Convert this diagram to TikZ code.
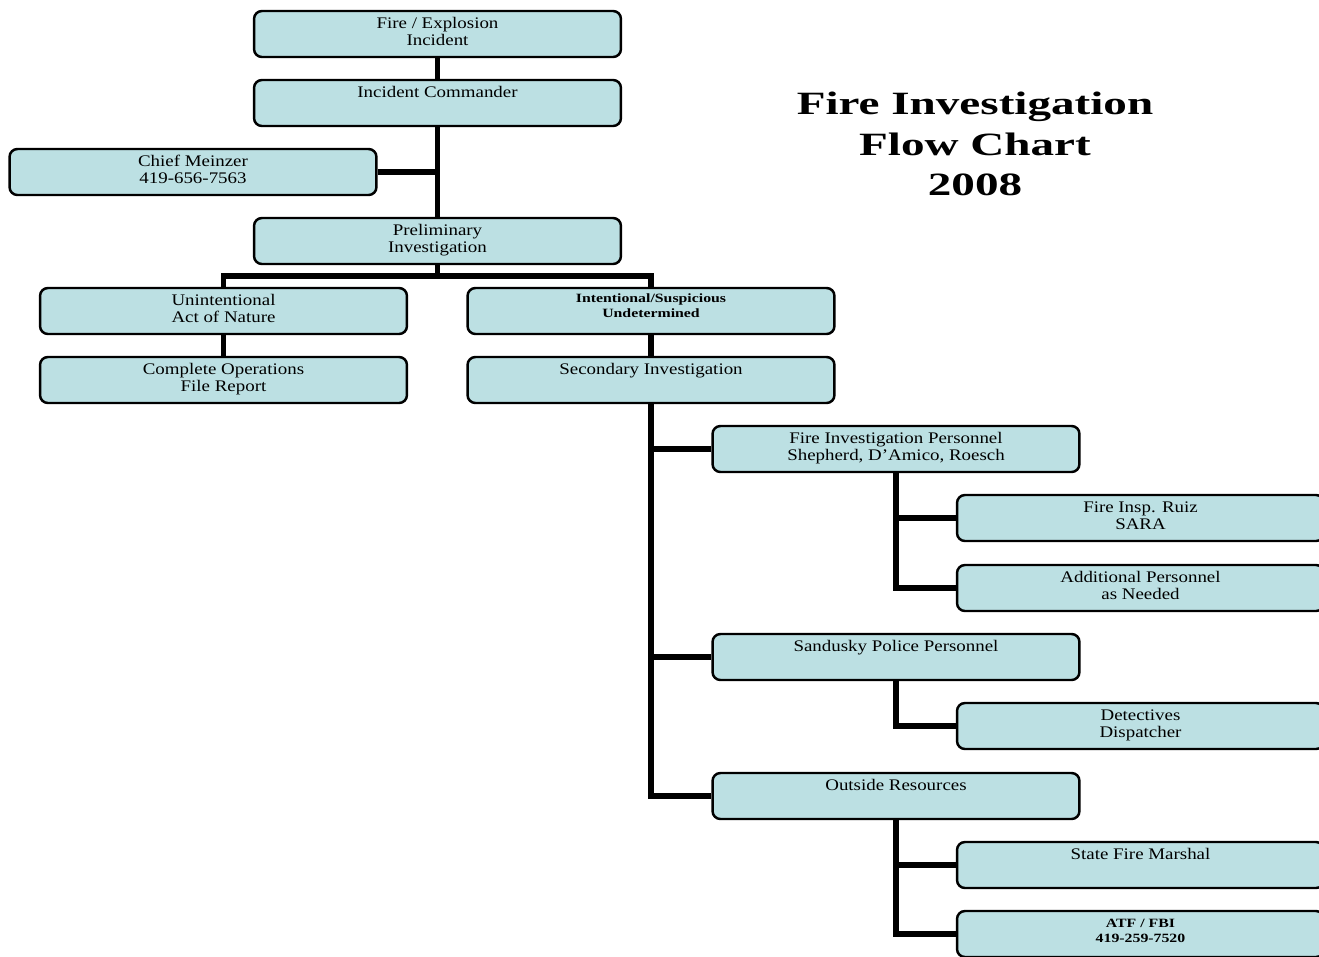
\documentclass[tikz,border=0pt]{standalone}
\usepackage{fontspec}
\setmainfont{Liberation Serif}[FakeStretch=1.17]
\newfontfamily\titlefont{Liberation Serif}[FakeStretch=1.45]
\newfontfamily\tagfont{Liberation Serif}[FakeStretch=1.25]
\definecolor{boxfill}{HTML}{BCE0E3}
\newcommand{\boxtext}[2][9.8pt]{\parbox[c][0.92cm][t]{7cm}{\centering\rule{0pt}{#1}#2}}

\begin{document}
\begin{tikzpicture}[x=0.02cm, y=-0.02cm,
    box/.style={draw=black, line width=1.4pt, rounded corners=4.5pt, fill=boxfill,
        minimum width=7.34cm, minimum height=0.92cm, inner sep=0pt,
        font=\fontsize{9.2}{9.7}\selectfont},
    tag/.style={box, font=\tagfont\bfseries\fontsize{7.2}{8.3}\selectfont},
    link/.style={line width=3pt, black},
]
\useasboundingbox (0,0) rectangle (1319,957);

% === Title ===
\node[font=\titlefont\bfseries\fontsize{18.5}{23.2}\selectfont, align=center]
    (title) at (975,144) {Fire Investigation\\Flow Chart\\2008};

% === Top chain ===
\node[box] (fire) at (437.5,34) {\boxtext{Fire / Explosion\\Incident}};
\node[box] (cmd) at (437.5,103) {\boxtext{Incident Commander}};
\node[box] (chief) at (193,172) {\boxtext{Chief Meinzer\\419-656-7563}};
\node[box] (prelim) at (437.5,241) {\boxtext{Preliminary\\Investigation}};

\draw[link] (fire.south) -- (cmd.north);
\draw[link] (cmd.south) -- (prelim.north);
\draw[link] (chief.east) -- (chief.east -| cmd.south);

% === Split ===
\node[box] (unint) at (223.5,311) {\boxtext{Unintentional\\Act of Nature}};
\node[tag] (intent) at (651,311) {\boxtext[8.5pt]{Intentional/Suspicious\\Undetermined}};
\node[box] (compl) at (223.5,380) {\boxtext{Complete Operations\\File Report}};
\node[box] (second) at (651,380) {\boxtext{Secondary Investigation}};

\coordinate (split) at (437.5,276);
\draw[link] (prelim.south) -- (split);
\draw[link] (unint.north) |- (split) -| (intent.north);
\draw[link] (unint.south) -- (compl.north);
\draw[link] (intent.south) -- (second.north);

% === Secondary branches ===
\node[box] (firepers) at (896,449) {\boxtext{Fire Investigation Personnel\\Shepherd, D'Amico, Roesch}};
\node[box] (police) at (896,657) {\boxtext{Sandusky Police Personnel}};
\node[box] (outside) at (896,796) {\boxtext{Outside Resources}};

\draw[link] (second.south) |- (outside.west);
\draw[link] (firepers.west) -- (firepers.west -| second.south);
\draw[link] (police.west) -- (police.west -| second.south);

% Fire personnel
\node[box] (ruiz) at (1140.5,518) {\boxtext{Fire Insp. Ruiz\\SARA}};
\node[box] (addl) at (1140.5,588) {\boxtext{Additional Personnel\\as Needed}};
\draw[link] (firepers.south) |- (addl.west);
\draw[link] (ruiz.west) -- (ruiz.west -| firepers.south);

% Police
\node[box] (detect) at (1140.5,726) {\boxtext{Detectives\\Dispatcher}};
\draw[link] (police.south) |- (detect.west);

% Outside resources
\node[box] (marshal) at (1140.5,865) {\boxtext{State Fire Marshal}};
\node[tag] (atf) at (1140.5,934) {\boxtext[9.5pt]{ATF / FBI\\419-259-7520}};
\draw[link] (outside.south) |- (atf.west);
\draw[link] (marshal.west) -- (marshal.west -| outside.south);

\end{tikzpicture}
\end{document}
